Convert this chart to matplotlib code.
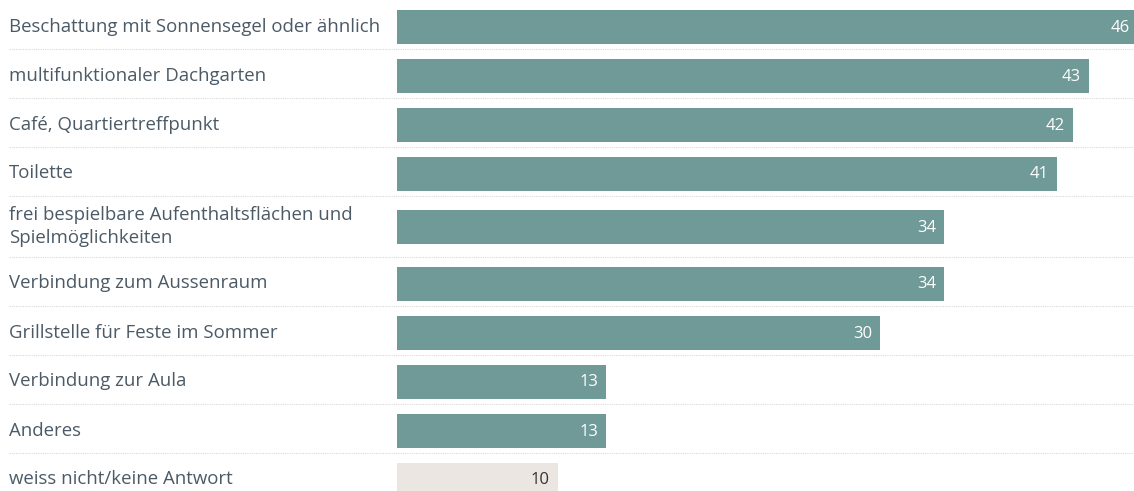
import matplotlib.pyplot as plt
from matplotlib.transforms import blended_transform_factory

labels = [
    "Beschattung mit Sonnensegel oder ähnlich",
    "multifunktionaler Dachgarten",
    "Café, Quartiertreffpunkt",
    "Toilette",
    "frei bespielbare Aufenthaltsflächen und\nSpielmöglichkeiten",
    "Verbindung zum Aussenraum",
    "Grillstelle für Feste im Sommer",
    "Verbindung zur Aula",
    "Anderes",
    "weiss nicht/keine Antwort",
]
values = [46, 43, 42, 41, 34, 34, 30, 13, 13, 10]
is_other = [False] * 9 + [True]

TEAL = "#6f9a98"
GREY = "#ebe6e2"
TEXT = "#4b5a66"

# --- layout in pixel units (1 unit on y = 1 px) ---
W, H = 1134, 491
px_per_unit = 16.1
bar_x0 = 397
row_h, extra_line = 49, 12
bar_h = 34

fig = plt.figure(figsize=(W / 100, H / 100), dpi=100)
ax = fig.add_axes([0, 0, 1, 1])
ax.set_xlim(-bar_x0 / px_per_unit, (W - bar_x0) / px_per_unit)
ax.set_ylim(H, 0)
ax.axis("off")

trans = blended_transform_factory(ax.transAxes, ax.transData)

top = 0
for lab, val, other in zip(labels, values, is_other):
    n = lab.count("\n") + 1
    h = row_h + extra_line * (n - 1)
    yc = top + h / 2 + 2 - 2 * (n - 1)
    ax.barh(yc, val, height=bar_h, left=0, color=GREY if other else TEAL,
            edgecolor="none")
    ax.text(9 / W, yc, lab, transform=trans, ha="left", va="center",
            fontsize=13.4, color=TEXT, family="Open Sans", linespacing=1.3)
    ax.text(val - 0.5, yc + 1, str(val), ha="right", va="center",
            fontsize=12, color="#333333" if other else "white",
            family="Open Sans")
    top += h
    if top < H - 10:
        ax.plot([9 / W, 1], [top, top], transform=trans, color="#d9d9d9",
                lw=0.8, ls=(0, (1, 1)))

fig.savefig("out.png", dpi=100)
